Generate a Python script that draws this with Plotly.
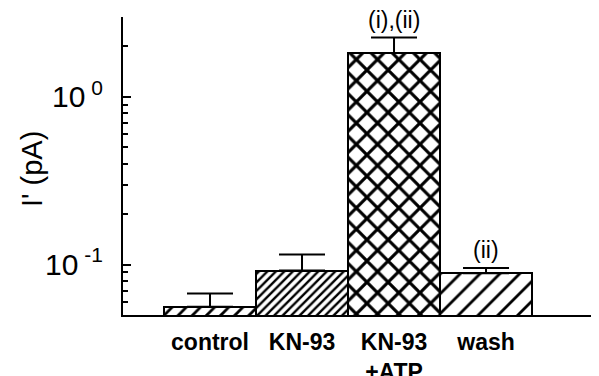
import math
import plotly.graph_objects as go

categories = ["control", "KN-93", "KN-93<br>+ATP", "wash"]
values = [0.0561, 0.092, 1.83, 0.0887]
err_plus = [0.0112, 0.0228, 0.43, 0.0068]
annotations_text = ["", "", "(i),(ii)", "(ii)"]
patterns = ["/", "/", "x", "/"]
pattern_sizes = [10, 6, 15, 14]
pattern_solidity = [0.28, 0.4, 0.38, 0.2]
y_major = [0.1, 1]
y_major_text = ["10<sup> -1</sup>", "10<sup> 0</sup>"]
y_minor = [0.06, 0.07, 0.08, 0.09, 0.2, 0.3, 0.4, 0.5, 0.6, 0.7, 0.8, 0.9, 2, 3]
y_title = "I' (pA)"

x = list(range(len(categories)))

fig = go.Figure()
fig.add_trace(go.Bar(
    x=x, y=values, width=1.0,
    marker=dict(
        color="white",
        line=dict(color="black", width=2),
        pattern=dict(shape=patterns, size=pattern_sizes, solidity=pattern_solidity,
                     fgcolor="black", bgcolor="white", fillmode="replace"),
    ),
    error_y=dict(type="data", array=err_plus, arrayminus=[0] * len(values),
                 symmetric=False, color="black", thickness=2, width=23),
    showlegend=False,
))

for xi, v, e, t in zip(x, values, err_plus, annotations_text):
    if t:
        fig.add_annotation(x=xi, y=math.log10(v + e), text=t,
                           showarrow=False, yanchor="bottom", yshift=3,
                           font=dict(size=23, color="black", family="Liberation Sans"))

fig.add_annotation(x=-0.191, y=0.49, xref="paper", yref="paper", text=y_title,
                   textangle=-90, showarrow=False, xanchor="center", yanchor="middle",
                   font=dict(size=29, color="black", family="Liberation Sans"))

fig.update_layout(
    width=591, height=368,
    margin=dict(l=115, r=0, t=9, b=61, autoexpand=False),
    paper_bgcolor="white", plot_bgcolor="white",
    font=dict(family="Liberation Sans", color="black"),
    bargap=0,
)
fig.update_xaxes(
    range=[-0.9457, 4.228], tickvals=x, ticktext=[f"<b>{c}</b>" for c in categories],
    showline=True, linecolor="black", linewidth=2, ticks="", showgrid=False,
    zeroline=False, tickfont=dict(size=23, family="Liberation Sans"), ticklabelstandoff=5,
)
fig.update_yaxes(
    type="log", range=[-1.301, 0.477],
    tickvals=y_major, ticktext=y_major_text, ticks="inside", ticklen=8, tickwidth=2,
    tickcolor="black",
    minor=dict(tickvals=y_minor, ticks="inside", ticklen=5, tickwidth=1.5, tickcolor="black", showgrid=False),
    showline=True, linecolor="black", linewidth=2, showgrid=False, zeroline=False,
    tickfont=dict(size=30, family="Liberation Sans"), ticklabelstandoff=12,
)

fig.write_html("out.html")
